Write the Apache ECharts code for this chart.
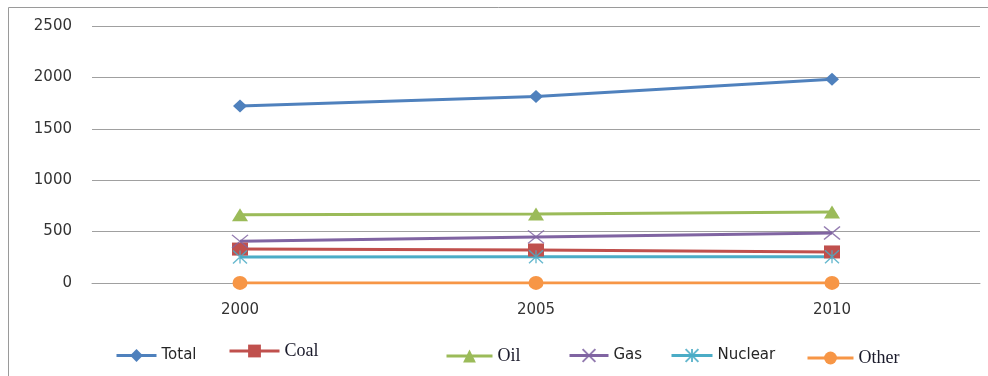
<!DOCTYPE html>
<html>
<head>
<meta charset="utf-8">
<script src="https://cdn.jsdelivr.net/npm/echarts@6/dist/echarts.min.js"></script>
<style>
  html, body { margin: 0; padding: 0; background: #fff; }
  #chart { width: 988px; height: 376px; }
</style>
</head>
<body>
<div id="chart"></div>
<script>
// Energy consumption by source, 2000–2010
const years = ['2000', '2005', '2010'];
const yTicks = [0, 500, 1000, 1500, 2000, 2500];

const total   = [1722, 1815, 1982];
const coal    = [330, 321, 302];
const oil     = [665, 671, 691];
const gas     = [405, 448, 486];
const nuclear = [253, 255, 256];
const other   = [1, 1, 1];

const seriesNames = ['Total', 'Coal', 'Oil', 'Gas', 'Nuclear', 'Other'];
const seriesData = [total, coal, oil, gas, nuclear, other];
const colors = ['#4F81BD', '#C0504D', '#9BBB59', '#8064A2', '#4BACC6', '#F79646'];

const symbols = [
  'diamond',
  'rect',
  'triangle',
  'path://M0,0L16,12M16,0L0,12',
  'path://M2,0L14,12M14,0L2,12M8,0L8,12',
  'circle'
];
const symbolSizes = [[14, 13], [16, 13], [16, 13], [16, 13], [14, 13], [15, 14]];

const series = seriesNames.map((name, i) => {
  const stroked = i === 3 || i === 4;
  return {
    name: name,
    type: 'line',
    data: seriesData[i],
    symbol: symbols[i],
    symbolSize: symbolSizes[i],
    showAllSymbol: true,
    lineStyle: { color: colors[i], width: 3 },
    itemStyle: stroked
      ? { color: colors[i], borderColor: colors[i], borderWidth: 1.3, opacity: 0.85 }
      : { color: colors[i], borderWidth: 0 },
    emphasis: { disabled: true },
    animation: false
  };
});

// One legend block per entry so each sits at its own place along the bottom
const sansText = () => ({ fontFamily: 'DejaVu Sans', fontSize: 15, color: '#262626' });
const serifText = () => ({ fontFamily: 'Liberation Serif', fontSize: 18, color: '#1a1a2a' });
const legendSpots = [
  { left: 110, top: 343, width: 40, text: sansText() },
  { left: 223, top: 337, width: 50, text: serifText() },
  { left: 440, top: 342, width: 46, text: serifText() },
  { left: 563, top: 343, width: 39, text: sansText() },
  { left: 665, top: 343, width: 41, text: sansText() },
  { left: 801, top: 344, width: 46, text: serifText() }
];
const legends = seriesNames.map((name, i) => ({
  data: [name],
  left: legendSpots[i].left,
  top: legendSpots[i].top,
  itemWidth: legendSpots[i].width,
  itemHeight: 16,
  itemGap: 0,
  selectedMode: false,
  lineStyle: { width: 3 },
  textStyle: legendSpots[i].text
}));

const chart = echarts.init(document.getElementById('chart'), null, { renderer: 'canvas' });
chart.setOption({
  backgroundColor: '#ffffff',
  animation: false,
  color: colors,
  graphic: [
    {
      type: 'polyline',
      shape: { points: [[8.5, 400], [8.5, 7.5], [988, 7.5]] },
      style: { stroke: '#9a9a9a', lineWidth: 1, fill: null },
      silent: true
    }
  ],
  legend: legends,
  grid: { left: 92, right: 8, top: 26, bottom: 93, containLabel: false },
  xAxis: {
    type: 'category',
    data: years,
    boundaryGap: true,
    axisLine: { show: true, lineStyle: { color: '#a0a0a0', width: 1 } },
    axisTick: { show: false },
    axisLabel: { margin: 20, fontFamily: 'DejaVu Sans', fontSize: 15, color: '#333333' },
    splitLine: { show: false }
  },
  yAxis: {
    type: 'value',
    min: yTicks[0],
    max: yTicks[yTicks.length - 1],
    interval: 500,
    axisLine: { show: false },
    axisTick: { show: false },
    axisLabel: {
      margin: 20,
      fontFamily: 'DejaVu Sans',
      fontSize: 15,
      color: '#333333',
      formatter: (v) => String(v)
    },
    splitLine: { show: true, lineStyle: { color: '#a0a0a0', width: 1 } }
  },
  series: series
});
</script>
</body>
</html>
